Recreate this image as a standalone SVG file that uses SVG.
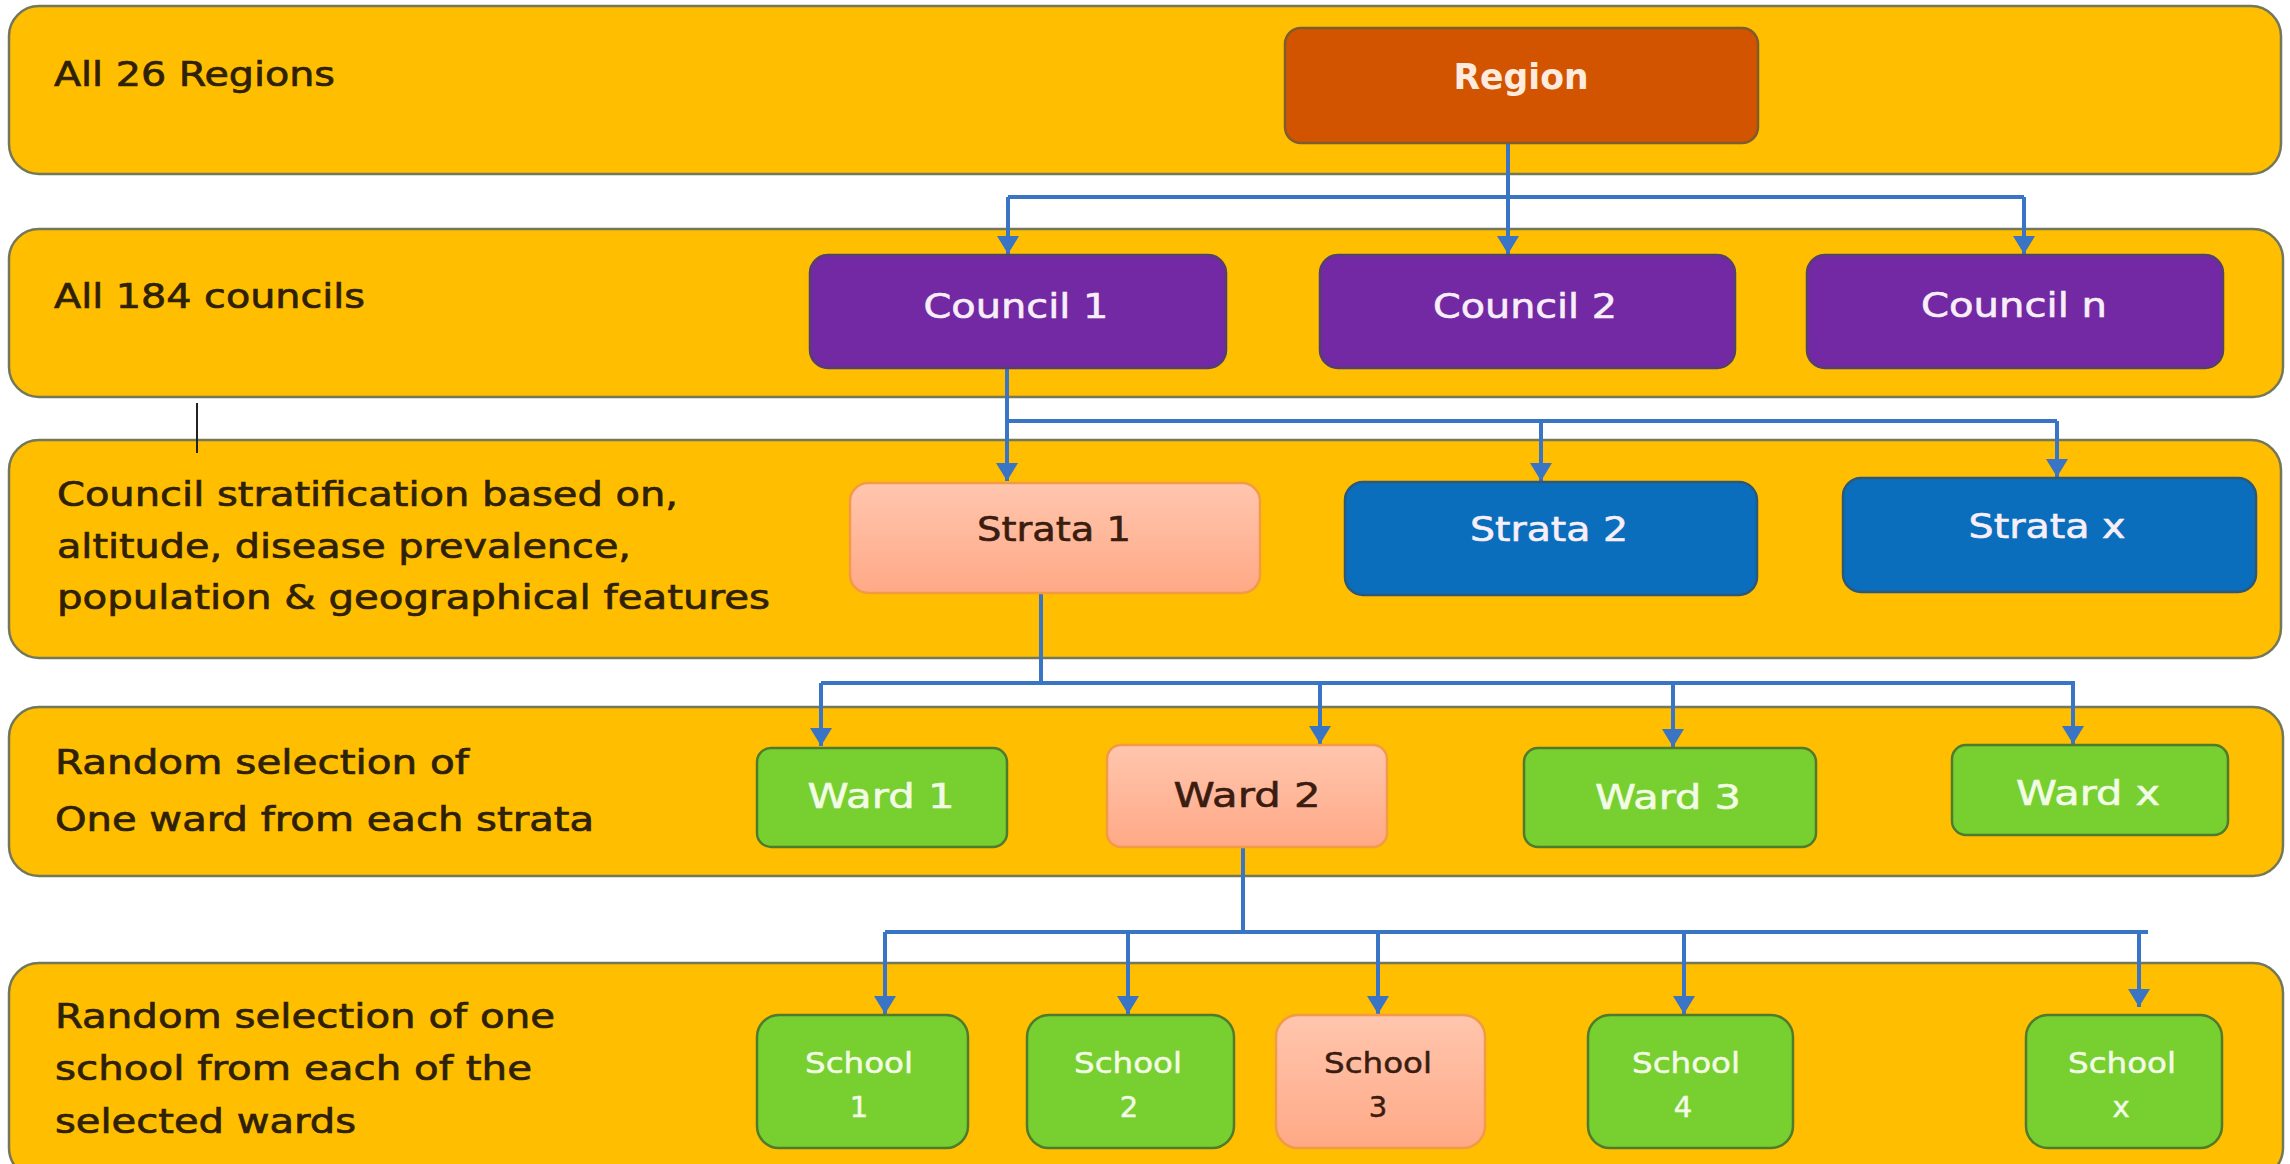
<svg xmlns="http://www.w3.org/2000/svg" width="2290" height="1164" viewBox="0 0 2290 1164">
<defs>
<linearGradient id="salmon" x1="0" y1="0" x2="0" y2="1">
<stop offset="0" stop-color="#FFC6AE"/>
<stop offset="1" stop-color="#FFA986"/>
</linearGradient>
<marker id="arr" markerUnits="userSpaceOnUse" markerWidth="20" markerHeight="24" refX="18" refY="12" orient="auto" viewBox="0 0 20 24">
<path d="M0,1 L18,12 L0,23 z" fill="#3A74C4"/>
</marker>
</defs>
<style>
.band{fill:#FFBE00;stroke:#74785A;stroke-width:2.5}
.lbl{font-family:"DejaVu Sans","Liberation Sans",sans-serif;font-size:34px;fill:#2E2108;stroke:#2E2108;stroke-width:0.7}
.nt{font-family:"DejaVu Sans","Liberation Sans",sans-serif;font-size:34px;text-anchor:middle;stroke-width:0.6}
.st{font-family:"DejaVu Sans","Liberation Sans",sans-serif;font-size:29px;text-anchor:middle;stroke-width:0.5}
.region{fill:#D35400;stroke:#7E5C2E;stroke-width:2.5}
.council{fill:#7329A3;stroke:#55406E;stroke-width:2.5}
.blue{fill:#0A6EBD;stroke:#2E5878;stroke-width:2.5}
.sal{fill:url(#salmon);stroke:#F29A45;stroke-width:2.5}
.green{fill:#78CF30;stroke:#4F7C2C;stroke-width:2.5}
.wt{fill:#F8EEF8;stroke:#F8EEF8}
.gt{fill:#F2FBE4;stroke:#F2FBE4}
.dt{fill:#3A1C10;stroke:#3A1C10}
.conn{fill:none;stroke:#3A74C4;stroke-width:4}
</style>
<rect width="2290" height="1164" fill="#FFFFFF"/>

<g id="bands">
<rect class="band" x="9" y="6" width="2272" height="168" rx="30"/>
<rect class="band" x="9" y="229" width="2274" height="168" rx="30"/>
<rect class="band" x="9" y="440" width="2272" height="218" rx="30"/>
<rect class="band" x="9" y="707" width="2274" height="169" rx="30"/>
<rect class="band" x="9" y="963" width="2274" height="215" rx="30"/>
</g>

<g id="labels">
<text class="lbl" x="54" y="86" textLength="281" lengthAdjust="spacingAndGlyphs">All 26 Regions</text>
<text class="lbl" x="54" y="308" textLength="311" lengthAdjust="spacingAndGlyphs">All 184 councils</text>
<text class="lbl" x="57" y="506" textLength="621" lengthAdjust="spacingAndGlyphs">Council stratification based on,</text>
<text class="lbl" x="57" y="558" textLength="574" lengthAdjust="spacingAndGlyphs">altitude, disease prevalence,</text>
<text class="lbl" x="57" y="609" textLength="713" lengthAdjust="spacingAndGlyphs">population &amp; geographical features</text>
<text class="lbl" x="55" y="774" textLength="414" lengthAdjust="spacingAndGlyphs">Random selection of</text>
<text class="lbl" x="55" y="831" textLength="539" lengthAdjust="spacingAndGlyphs">One ward from each strata</text>
<text class="lbl" x="55" y="1028" textLength="500" lengthAdjust="spacingAndGlyphs">Random selection of one</text>
<text class="lbl" x="55" y="1080" textLength="477" lengthAdjust="spacingAndGlyphs">school from each of the</text>
<text class="lbl" x="55" y="1133" textLength="301" lengthAdjust="spacingAndGlyphs">selected wards</text>
<line x1="197" y1="403" x2="197" y2="453" stroke="#222222" stroke-width="2"/>
</g>

<g id="connectors">
<path class="conn" d="M1508,143 V197"/>
<path class="conn" d="M1008,197 H2024"/>
<path class="conn" d="M1008,197 V254" marker-end="url(#arr)"/>
<path class="conn" d="M1508,197 V254" marker-end="url(#arr)"/>
<path class="conn" d="M2024,197 V254" marker-end="url(#arr)"/>

<path class="conn" d="M1007,368 V421"/>
<path class="conn" d="M1007,421 H2057"/>
<path class="conn" d="M1007,421 V481" marker-end="url(#arr)"/>
<path class="conn" d="M1541,421 V481" marker-end="url(#arr)"/>
<path class="conn" d="M2057,421 V477" marker-end="url(#arr)"/>

<path class="conn" d="M1041,593 V683"/>
<path class="conn" d="M821,683 H2075"/>
<path class="conn" d="M821,683 V746" marker-end="url(#arr)"/>
<path class="conn" d="M1320,683 V744" marker-end="url(#arr)"/>
<path class="conn" d="M1673,683 V747" marker-end="url(#arr)"/>
<path class="conn" d="M2073,683 V744" marker-end="url(#arr)"/>

<path class="conn" d="M1243,847 V932"/>
<path class="conn" d="M885,932 H2148"/>
<path class="conn" d="M885,932 V1014" marker-end="url(#arr)"/>
<path class="conn" d="M1128,932 V1014" marker-end="url(#arr)"/>
<path class="conn" d="M1378,932 V1014" marker-end="url(#arr)"/>
<path class="conn" d="M1684,932 V1014" marker-end="url(#arr)"/>
<path class="conn" d="M2139,932 V1007" marker-end="url(#arr)"/>
</g>

<g id="region">
<rect class="region" x="1285" y="28" width="473" height="115" rx="16"/>
<text class="nt" x="1521" y="89" style="font-size:36px;font-weight:bold;fill:#FFEBDD" textLength="135" lengthAdjust="spacingAndGlyphs">Region</text>
</g>

<g id="council1">
<rect class="council" x="810" y="255" width="416" height="113" rx="18"/>
<text class="nt wt" x="1016" y="318" textLength="185" lengthAdjust="spacingAndGlyphs">Council 1</text>
</g>
<g id="council2">
<rect class="council" x="1320" y="255" width="415" height="113" rx="18"/>
<text class="nt wt" x="1525" y="318" textLength="184" lengthAdjust="spacingAndGlyphs">Council 2</text>
</g>
<g id="counciln">
<rect class="council" x="1807" y="255" width="416" height="113" rx="18"/>
<text class="nt wt" x="2014" y="317" textLength="186" lengthAdjust="spacingAndGlyphs">Council n</text>
</g>

<g id="strata1">
<rect class="sal" x="850" y="483" width="410" height="110" rx="18"/>
<text class="nt dt" x="1054" y="541" textLength="154" lengthAdjust="spacingAndGlyphs">Strata 1</text>
</g>
<g id="strata2">
<rect class="blue" x="1345" y="482" width="412" height="113" rx="18"/>
<text class="nt wt" x="1549" y="541" textLength="158" lengthAdjust="spacingAndGlyphs">Strata 2</text>
</g>
<g id="stratax">
<rect class="blue" x="1843" y="478" width="413" height="114" rx="18"/>
<text class="nt wt" x="2047" y="538" textLength="157" lengthAdjust="spacingAndGlyphs">Strata x</text>
</g>

<g id="ward1">
<rect class="green" x="757" y="748" width="250" height="99" rx="14"/>
<text class="nt gt" x="881" y="808" textLength="147" lengthAdjust="spacingAndGlyphs">Ward 1</text>
</g>
<g id="ward2">
<rect class="sal" x="1107" y="745" width="280" height="102" rx="14"/>
<text class="nt dt" x="1247" y="807" textLength="147" lengthAdjust="spacingAndGlyphs">Ward 2</text>
</g>
<g id="ward3">
<rect class="green" x="1524" y="748" width="292" height="99" rx="14"/>
<text class="nt gt" x="1668" y="809" textLength="146" lengthAdjust="spacingAndGlyphs">Ward 3</text>
</g>
<g id="wardx">
<rect class="green" x="1952" y="745" width="276" height="90" rx="14"/>
<text class="nt gt" x="2088" y="805" textLength="144" lengthAdjust="spacingAndGlyphs">Ward x</text>
</g>

<g id="school1">
<rect class="green" x="757" y="1015" width="211" height="133" rx="22"/>
<text class="st gt" x="859" y="1073" textLength="108" lengthAdjust="spacingAndGlyphs">School</text>
<text class="st gt" x="859" y="1117">1</text>
</g>
<g id="school2">
<rect class="green" x="1027" y="1015" width="207" height="133" rx="22"/>
<text class="st gt" x="1128" y="1073" textLength="108" lengthAdjust="spacingAndGlyphs">School</text>
<text class="st gt" x="1129" y="1117">2</text>
</g>
<g id="school3">
<rect class="sal" x="1276" y="1015" width="209" height="133" rx="22"/>
<text class="st dt" x="1378" y="1073" textLength="108" lengthAdjust="spacingAndGlyphs">School</text>
<text class="st dt" x="1378" y="1117">3</text>
</g>
<g id="school4">
<rect class="green" x="1588" y="1015" width="205" height="133" rx="22"/>
<text class="st gt" x="1686" y="1073" textLength="108" lengthAdjust="spacingAndGlyphs">School</text>
<text class="st gt" x="1683" y="1117">4</text>
</g>
<g id="schoolx">
<rect class="green" x="2026" y="1015" width="196" height="133" rx="22"/>
<text class="st gt" x="2122" y="1073" textLength="108" lengthAdjust="spacingAndGlyphs">School</text>
<text class="st gt" x="2121" y="1117">x</text>
</g>
</svg>
